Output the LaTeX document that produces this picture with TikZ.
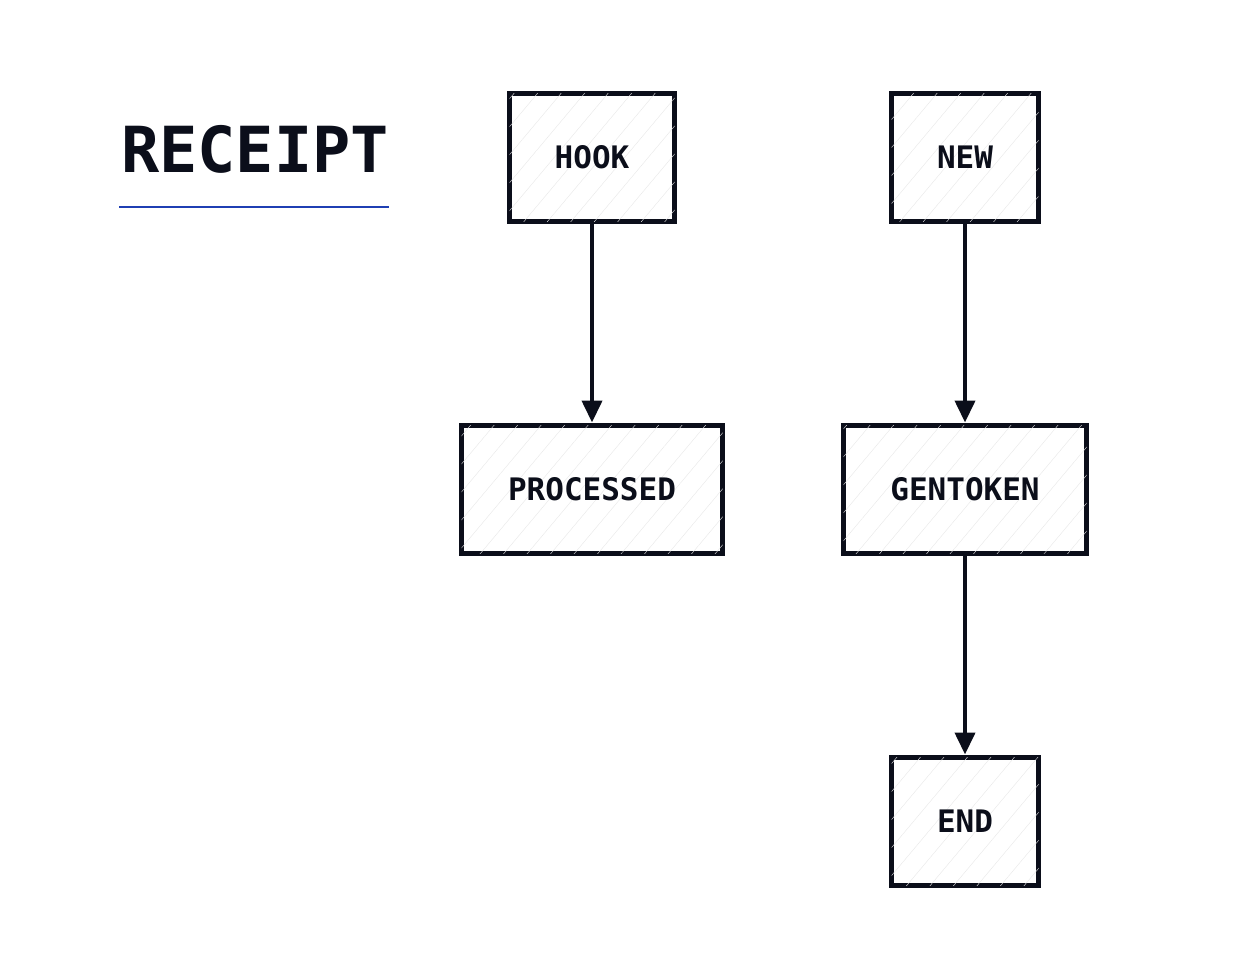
\documentclass[tikz,border=0pt]{standalone}
\usepackage{fontspec}
\setmonofont{DejaVu Sans Mono}
\usetikzlibrary{arrows.meta, patterns.meta}

\definecolor{ink}{HTML}{0B0E1A}
\definecolor{rule}{HTML}{1F3FB3}

\tikzstyle{state}=[draw=ink, line width=5pt, fill=white, postaction={pattern={Lines[angle=50, distance=18pt, line width=0.4pt]}, pattern color=gray!18}, minimum height=128pt, font=\ttfamily\bfseries\fontsize{31}{31}\selectfont, text=ink]
\tikzstyle{arrow}=[draw=ink, line width=4pt, -{Triangle[length=22pt, width=20pt]}]

\begin{document}
\begin{tikzpicture}[x=1pt, y=-1pt]
      \useasboundingbox (0, 0) rectangle (1258, 958);

      \node[anchor=base west, inner sep=0pt, font=\ttfamily\bfseries\fontsize{63.5}{64}\selectfont, text=ink] (title) at (121, 172) {RECEIPT};
      \draw[rule, line width=2pt] (119, 207) coordinate (ruleleft) -- (389, 207) coordinate (ruleright);

      \node[state, minimum width=165pt] (hook) at (592, 157) {HOOK};
      \node[state, minimum width=147pt] (new) at (965, 157) {NEW};
      \node[state, minimum width=261pt] (processed) at (592, 489) {PROCESSED};
      \node[state, minimum width=243pt] (gentoken) at (965, 489) {GENTOKEN};
      \node[state, minimum width=147pt] (end) at (965, 821) {END};

      \draw[arrow] (hook) to (processed);
      \draw[arrow] (new) to (gentoken);
      \draw[arrow] (gentoken) to (end);
    \end{tikzpicture}
\end{document}
